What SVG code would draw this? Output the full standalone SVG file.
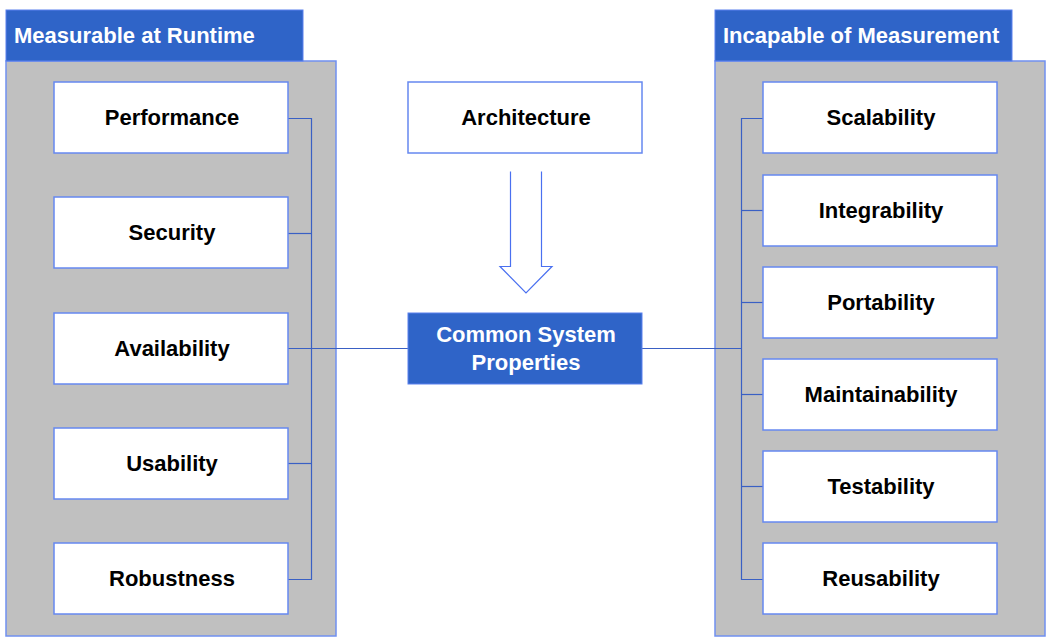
<svg xmlns="http://www.w3.org/2000/svg" width="1051" height="641" viewBox="0 0 1051 641">
<style>
.panel{fill:#c0c0c0;stroke:#7090f0;stroke-width:1.5}
.hdr{fill:#2f64c8;stroke:#5b80ee;stroke-width:1}
.box{fill:#fff;stroke:#6688f0;stroke-width:1.5}
.blue{fill:#2f64c8;stroke:#5b80ee;stroke-width:1}
.t{font-family:"Liberation Sans",Arial,sans-serif;font-weight:bold;font-size:22px;text-anchor:middle;fill:#000}
.w{fill:#fff}
.h{font-family:"Liberation Sans",Arial,sans-serif;font-weight:bold;font-size:22px;fill:#fff}
.c{fill:none;stroke:#3a60c4;stroke-width:1.2}
.arr{fill:#fff;stroke:#4a70f0;stroke-width:1.2}
</style>
<rect width="1051" height="641" fill="#fff"/>
<g id="left-group">
<rect class="panel" x="6" y="61" width="330" height="575"/>
<rect class="hdr" x="6" y="10" width="297" height="51"/>
<text class="h" x="14" y="43">Measurable at Runtime</text>
</g>
<g id="right-group">
<rect class="panel" x="715" y="61" width="330" height="575"/>
<rect class="hdr" x="715" y="10" width="297" height="51"/>
<text class="h" x="723" y="43">Incapable of Measurement</text>
</g>
<g id="connectors">
<polyline class="c" points="288,118.5 311.5,118.5 311.5,579.5 288,579.5"/>
<line class="c" x1="288" y1="233.5" x2="311.5" y2="233.5"/>
<line class="c" x1="288" y1="463.5" x2="311.5" y2="463.5"/>
<line class="c" x1="288" y1="348.5" x2="408" y2="348.5"/>
<polyline class="c" points="763,118.5 741.5,118.5 741.5,579.5 763,579.5"/>
<line class="c" x1="741.5" y1="210.5" x2="763" y2="210.5"/>
<line class="c" x1="741.5" y1="302.5" x2="763" y2="302.5"/>
<line class="c" x1="741.5" y1="394.5" x2="763" y2="394.5"/>
<line class="c" x1="741.5" y1="486.5" x2="763" y2="486.5"/>
<line class="c" x1="642" y1="348.5" x2="741.5" y2="348.5"/>
<path class="arr" d="M510.5,171.5 L510.5,266.5 L500,266.5 L526,293 L552,266.5 L541.5,266.5 L541.5,171.5"/>
</g>
<g id="performance"><rect class="box" x="54" y="82" width="234" height="71"/><text class="t" x="172" y="125">Performance</text></g>
<g id="security"><rect class="box" x="54" y="197" width="234" height="71"/><text class="t" x="172" y="240">Security</text></g>
<g id="availability"><rect class="box" x="54" y="313" width="234" height="71"/><text class="t" x="172" y="356">Availability</text></g>
<g id="usability"><rect class="box" x="54" y="428" width="234" height="71"/><text class="t" x="172" y="471">Usability</text></g>
<g id="robustness"><rect class="box" x="54" y="543" width="234" height="71"/><text class="t" x="172" y="586">Robustness</text></g>
<g id="architecture"><rect class="box" x="408" y="82" width="234" height="71"/><text class="t" x="526" y="125">Architecture</text></g>
<g id="common"><rect class="blue" x="408" y="313" width="234" height="71"/><text class="t w" x="526" y="342">Common System</text><text class="t w" x="526" y="370">Properties</text></g>
<g id="scalability"><rect class="box" x="763" y="82" width="234" height="71"/><text class="t" x="881" y="125">Scalability</text></g>
<g id="integrability"><rect class="box" x="763" y="175" width="234" height="71"/><text class="t" x="881" y="218">Integrability</text></g>
<g id="portability"><rect class="box" x="763" y="267" width="234" height="71"/><text class="t" x="881" y="310">Portability</text></g>
<g id="maintainability"><rect class="box" x="763" y="359" width="234" height="71"/><text class="t" x="881" y="402">Maintainability</text></g>
<g id="testability"><rect class="box" x="763" y="451" width="234" height="71"/><text class="t" x="881" y="494">Testability</text></g>
<g id="reusability"><rect class="box" x="763" y="543" width="234" height="71"/><text class="t" x="881" y="586">Reusability</text></g>
</svg>
